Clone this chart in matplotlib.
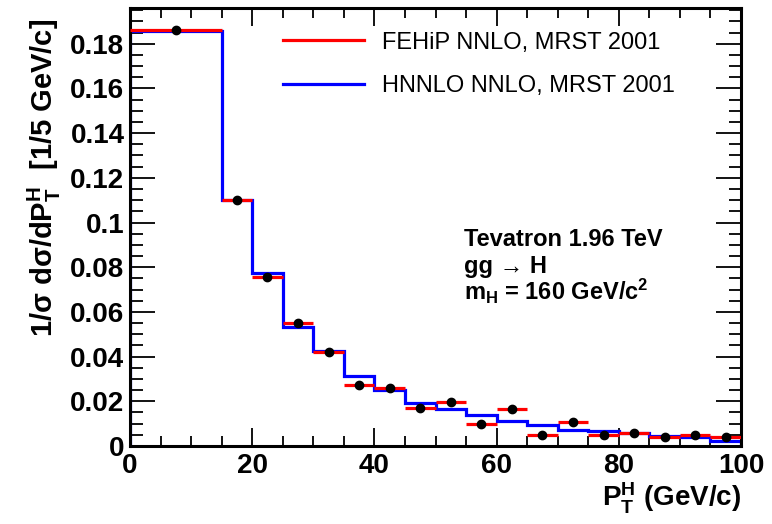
import numpy as np
import matplotlib
matplotlib.use("Agg")
import matplotlib.pyplot as plt
from matplotlib.ticker import MultipleLocator, FuncFormatter
from matplotlib.lines import Line2D

plt.rcParams['font.family'] = ['Liberation Sans', 'DejaVu Sans']
plt.rcParams['mathtext.fontset'] = 'custom'
plt.rcParams['mathtext.rm'] = 'Liberation Sans:bold'
plt.rcParams['mathtext.it'] = 'Liberation Sans:bold'
plt.rcParams['mathtext.bf'] = 'Liberation Sans:bold'

bin_edges = [0, 15, 20, 25, 30, 35, 40, 45, 50, 55, 60, 65, 70, 75, 80, 85, 90, 95, 100]
fehip = [0.1862, 0.1100, 0.0755, 0.0549, 0.0419, 0.0272, 0.0261, 0.0169, 0.0198,
         0.0097, 0.0166, 0.0048, 0.0107, 0.0049, 0.0058, 0.0039, 0.0049, 0.0039]
fehip_err = [0.0015, 0.0015, 0.0013, 0.0012, 0.0012, 0.0011, 0.0011, 0.0011, 0.0012,
             0.0010, 0.0011, 0.0010, 0.0010, 0.0010, 0.0010, 0.0010, 0.0010, 0.0010]
hnnlo = [0.1855, 0.1100, 0.0773, 0.0532, 0.0427, 0.0313, 0.0249, 0.0192, 0.0164,
         0.0140, 0.0112, 0.0092, 0.0072, 0.0069, 0.0057, 0.0043, 0.0042, 0.0022]
legend_labels = ['FEHiP NNLO, MRST 2001', 'HNNLO NNLO, MRST 2001']

fig = plt.figure(figsize=(7.72, 5.24), dpi=100)
ax = fig.add_axes([130/772, 78/524, 611/772, 438/524])

edges = np.array(bin_edges)
centers = 0.5 * (edges[:-1] + edges[1:])
halfw = 0.5 * (edges[1:] - edges[:-1])

ax.stairs(hnnlo, edges, color='#0000ff', lw=2.3, zorder=2)
ax.errorbar(centers, fehip, xerr=halfw, yerr=fehip_err, fmt='o', color='#ff0000',
            ecolor='#ff0000', elinewidth=2.3, capsize=0, ms=6, mfc='black', mec='black',
            zorder=3)
h1 = Line2D([], [], color='#ff0000', lw=2.3)
h2 = Line2D([], [], color='#0000ff', lw=2.3)
ax.legend([h1, h2], legend_labels,
          loc='upper left', bbox_to_anchor=(0.25, 0.946), frameon=False,
          borderpad=0, borderaxespad=0,
          fontsize=17, handlelength=3.45, handletextpad=0.75, labelspacing=0.91)

ax.set_xlim(0, 100)
ax.set_ylim(0, 0.196)
ax.xaxis.set_major_locator(MultipleLocator(20))
ax.xaxis.set_minor_locator(MultipleLocator(5))
ax.yaxis.set_major_locator(MultipleLocator(0.02))
ax.yaxis.set_minor_locator(MultipleLocator(0.005))
ax.yaxis.set_major_formatter(FuncFormatter(lambda v, p: f'{v:g}' if abs(v) > 1e-9 else '0'))
ax.xaxis.set_major_formatter(FuncFormatter(lambda v, p: f'{v:g}'))
ax.tick_params(which='both', direction='in', top=True, right=True, width=1.3)
ax.tick_params(axis='x', which='major', length=13, labelsize=20, pad=5)
ax.tick_params(axis='x', which='minor', length=7)
ax.tick_params(axis='y', which='major', length=18, labelsize=20, pad=4)
ax.tick_params(axis='y', which='minor', length=9)
for lab in ax.get_xticklabels() + ax.get_yticklabels():
    lab.set_fontweight('bold')
for s in ax.spines.values():
    s.set_linewidth(2.2)

ax.set_xlabel(r'$\mathbf{P_T^H}$ (GeV/c)', fontsize=20, fontweight='bold', loc='right')
ax.xaxis.set_label_coords(1.0, -0.08)
ax.set_ylabel(r'1/$\sigma$ d$\sigma$/d$\mathbf{P_T^H}$  [1/5 GeV/c]', fontsize=21,
              fontweight='bold', loc='top')
ax.yaxis.set_label_coords(-0.11, 0.975)

ax.text(0.547, 0.457, 'Tevatron 1.96 TeV', transform=ax.transAxes, fontsize=17,
        fontweight='bold', va='baseline')
ax.text(0.547, 0.395, 'gg → H', transform=ax.transAxes, fontsize=17,
        fontweight='bold', va='baseline')
ax.text(0.547, 0.333, r'm$_{\mathbf{H}}$ = 160 GeV/c$^{\mathbf{2}}$', transform=ax.transAxes,
        fontsize=17, fontweight='bold', va='baseline')

fig.savefig('out.png', dpi=100)
